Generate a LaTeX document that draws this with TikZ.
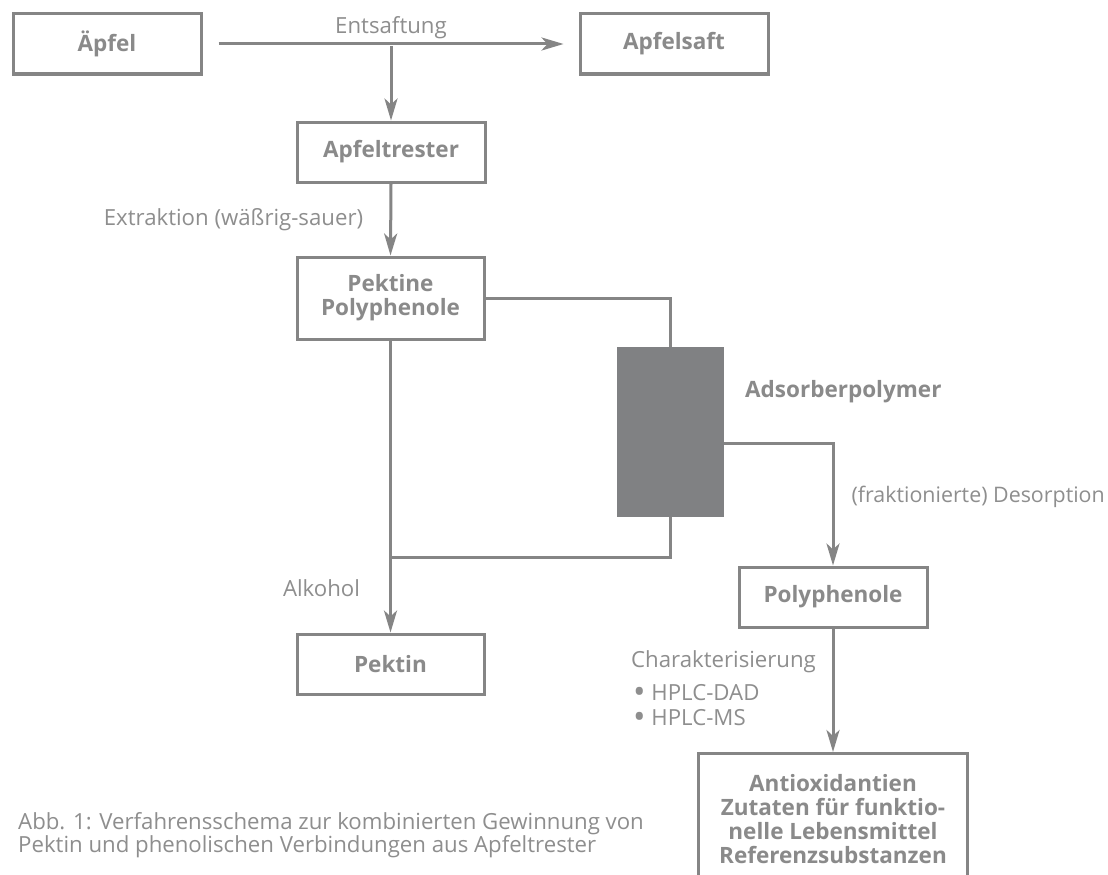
\documentclass[tikz,border=0pt]{standalone}
\usepackage{fontspec}
\setmainfont{Open Sans}
\usetikzlibrary{arrows.meta}
\definecolor{ln}{HTML}{858585}
\definecolor{tx}{HTML}{8A8A8A}
\definecolor{lt}{HTML}{8E8E8E}
\definecolor{colfill}{HTML}{808183}
\newcommand{\bigbul}{\raisebox{-2.6pt}[0pt][0pt]{\scalebox{1.5}{•}}}
\begin{document}
\begin{tikzpicture}[x=1pt,y=-1pt,
  box/.style={draw=ln,line width=3pt,minimum width=188pt,minimum height=60pt,inner sep=0pt,
    font=\fontsize{22.5}{24}\selectfont\bfseries,text=tx,align=center},
  lbl/.style={inner sep=0pt,font=\fontsize{22.2}{24}\selectfont,text=lt},
  wire/.style={draw=ln,line width=3pt},
  arr/.style={wire,-{Stealth[length=22pt,width=13pt,inset=6pt]}}]
\useasboundingbox (0,0) rectangle (1108,875);
\clip (0,0) rectangle (1108,875);
\fill[white] (0,0) rectangle (1108,875);
% boxes
\node[box] (apf) at (107,44) {Äpfel};
\node[box] (saft) at (674,44) {Apfelsaft};
\node[box] (trest) at (391,152) {Apfeltrester};
\node[box,minimum width=187pt,minimum height=82pt] (pp) at (390.5,298) {Pektine\\Polyphenole};
\node[fill=colfill,minimum width=107pt,minimum height=170pt,inner sep=0pt] (col) at (670.5,432) {};
\node[box,minimum width=187pt] (pektin) at (390.5,664) {Pektin};
\node[box] (poly) at (833,597) {Polyphenole};
\node[box,minimum width=269pt,minimum height=132pt,anchor=north] (anti) at (833,752) {Antioxidantien\\Zutaten für funktio-\\nelle Lebensmittel\\Referenzsubstanzen};
% coordinates
\coordinate (j1) at (391,46);
\coordinate (j2) at (390.5,557);
\coordinate (cr) at (724,443);
% connectors
\draw[arr,shorten <=16pt,shorten >=15pt] (apf.east) -- (saft.west);
\draw[arr] (j1) -- (trest.north);
\draw[arr] (trest.south) -- (pp.north);
\draw[wire] (pp.east) -| (col.north);
\draw[wire] (col.south) |- (j2);
\draw[arr] (pp.south) -- (pektin.north);
\draw[arr] (cr) -| (poly.north);
\draw[arr] (poly.south) -- (anti.north);
% labels
\node[lbl] (l1) at (391,28) {Entsaftung};
\node[lbl] (l2) at (233.5,220) {Extraktion (wäßrig-sauer)};
\node[lbl,anchor=west,font=\fontsize{22.5}{24}\selectfont\bfseries,text=tx] (l3) at (745,392) {Adsorberpolymer};
\node[lbl,anchor=east,font=\fontsize{21.4}{24}\selectfont] (l4) at (1105,497) {(fraktionierte) Desorption};
\node[lbl] (l5) at (321.5,588) {Alkohol};
\node[lbl,anchor=west] (l6) at (631,662) {Charakterisierung};
\node[lbl,anchor=west,align=left,font=\fontsize{22.2}{25}\selectfont] (l7) at (633,705.5) {\bigbul\ HPLC-DAD\\\bigbul\ HPLC-MS};
\node[lbl,anchor=west] (c1) at (18,824) {Abb. 1: Verfahrensschema zur kombinierten Gewinnung von};
\node[lbl,anchor=west] (c2) at (18,847) {Pektin und phenolischen Verbindungen aus Apfeltrester};
\end{tikzpicture}
\end{document}
